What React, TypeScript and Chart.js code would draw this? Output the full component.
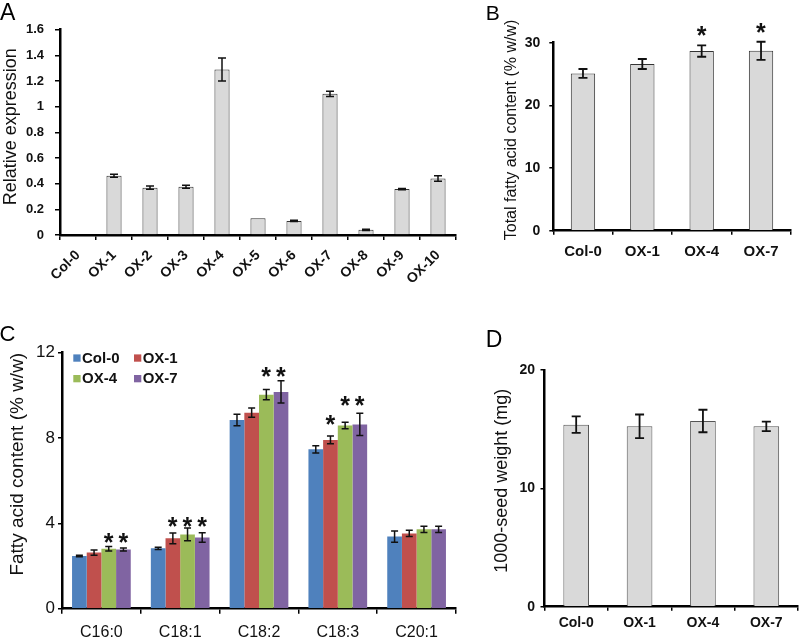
import React, { useEffect, useRef } from "react";
import { Chart, registerables } from "chart.js";

Chart.register(...registerables);

const FONT = "'Liberation Sans', Arial, Helvetica, sans-serif";

// ---------- Panel A : relative expression ----------
const linesA = ["Col-0", "OX-1", "OX-2", "OX-3", "OX-4", "OX-5", "OX-6", "OX-7", "OX-8", "OX-9", "OX-10"];
const exprA = [0, 0.462, 0.369, 0.376, 1.29, 0.13, 0.11, 1.1, 0.04, 0.358, 0.44];
const exprErrA = [0, 0.012, 0.012, 0.012, 0.09, 0, 0.004, 0.02, 0.005, 0.005, 0.022];
const ticksA = [0, 0.2, 0.4, 0.6, 0.8, 1, 1.2, 1.4, 1.6];

// ---------- Panel B : total fatty acid content ----------
const linesB = ["Col-0", "OX-1", "OX-4", "OX-7"];
const totalFaB = [25.1, 26.6, 28.66, 28.7];
const totalFaErrB = [0.7, 0.8, 0.9, 1.45];
const sigB = [null, null, 31.8, 32.4];
const ticksB = [0, 10, 20, 30];

// ---------- Panel C : fatty acid composition ----------
const acidsC = ["C16:0", "C18:1", "C18:2", "C18:3", "C20:1"];
const seriesC = ["Col-0", "OX-1", "OX-4", "OX-7"];
const col0C = [2.47, 2.83, 8.84, 7.47, 3.38];
const col0ErrC = [0.03, 0.05, 0.27, 0.17, 0.26];
const ox1C = [2.63, 3.3, 9.19, 7.91, 3.53];
const ox1ErrC = [0.12, 0.25, 0.22, 0.18, 0.15];
const ox4C = [2.81, 3.48, 10.03, 8.59, 3.72];
const ox4ErrC = [0.1, 0.3, 0.24, 0.15, 0.15];
const ox7C = [2.78, 3.34, 10.16, 8.64, 3.72];
const ox7ErrC = [0.07, 0.22, 0.52, 0.52, 0.15];
const col0SigC = [null, null, null, null, null];
const ox1SigC = [null, 4.08, null, 8.85, null];
const ox4SigC = [3.31, 4.08, 11.11, 9.74, null];
const ox7SigC = [3.31, 4.08, 11.11, 9.74, null];
const colorsC = ["#4F81BD", "#C0504D", "#9BBB59", "#8064A2"];
const ticksC = [0, 4, 8, 12];

// ---------- Panel D : 1000-seed weight ----------
const linesD = ["Col-0", "OX-1", "OX-4", "OX-7"];
const seedD = [15.38, 15.24, 15.69, 15.24];
const seedErrD = [0.7, 1.0, 0.95, 0.4];
const ticksD = [0, 10, 20];

const GRAY = "#D9D9D9";

type PanelCfg = {
  letter: { text: string; x: number; y: number; size: number };
  yTitle: { text: string; x: number; y: number; size: number };
  err: { cap: number; width: number };
  starHeight: number;
  legend?: { cols: number[]; rows: number[]; box: number; textDx: number; size: number };
};

function makePlugin(cfg: PanelCfg) {
  return {
    id: "panelDecor",
    afterDatasetsDraw(chart: any) {
      const ctx = chart.ctx as CanvasRenderingContext2D;
      const ys = chart.scales.y;
      chart.data.datasets.forEach((ds: any, di: number) => {
        const meta = chart.getDatasetMeta(di);
        meta.data.forEach((el: any, i: number) => {
          const v = ds.data[i];
          const e = ds.errors ? ds.errors[i] : 0;
          const x = el.x;
          if (e) {
            const t = ys.getPixelForValue(v + e);
            const b = ys.getPixelForValue(v - e);
            ctx.save();
            ctx.strokeStyle = "#111";
            ctx.lineWidth = cfg.err.width;
            ctx.beginPath();
            ctx.moveTo(x, t);
            ctx.lineTo(x, b);
            ctx.moveTo(x - cfg.err.cap, t);
            ctx.lineTo(x + cfg.err.cap, t);
            ctx.moveTo(x - cfg.err.cap, b);
            ctx.lineTo(x + cfg.err.cap, b);
            ctx.stroke();
            ctx.restore();
          }
          const s = ds.sig ? ds.sig[i] : null;
          if (s !== null && s !== undefined) {
            const yc = ys.getPixelForValue(s);
            ctx.save();
            ctx.font = `bold 100px ${FONT}`;
            const m0 = ctx.measureText("*");
            const h0 = m0.actualBoundingBoxAscent + m0.actualBoundingBoxDescent;
            const size = (100 * cfg.starHeight) / h0;
            ctx.font = `bold ${size}px ${FONT}`;
            const m = ctx.measureText("*");
            const mid = (m.actualBoundingBoxAscent - m.actualBoundingBoxDescent) / 2;
            const cx = (m.actualBoundingBoxRight - m.actualBoundingBoxLeft) / 2;
            ctx.fillStyle = "#111";
            ctx.textAlign = "left";
            ctx.textBaseline = "alphabetic";
            ctx.fillText("*", x - cx, yc + mid);
            ctx.restore();
          }
        });
      });
    },
    afterDraw(chart: any) {
      const ctx = chart.ctx as CanvasRenderingContext2D;
      ctx.save();
      ctx.fillStyle = "#000";
      ctx.font = `${cfg.letter.size}px ${FONT}`;
      ctx.textAlign = "left";
      ctx.textBaseline = "alphabetic";
      ctx.fillText(cfg.letter.text, cfg.letter.x, cfg.letter.y);
      ctx.save();
      ctx.translate(cfg.yTitle.x, cfg.yTitle.y);
      ctx.rotate(-Math.PI / 2);
      ctx.font = `${cfg.yTitle.size}px ${FONT}`;
      ctx.textAlign = "center";
      ctx.textBaseline = "middle";
      ctx.fillStyle = "#111";
      ctx.fillText(cfg.yTitle.text, 0, 0);
      ctx.restore();
      if (cfg.legend) {
        const L = cfg.legend;
        ctx.font = `bold ${L.size}px ${FONT}`;
        ctx.textAlign = "left";
        ctx.textBaseline = "alphabetic";
        chart.data.datasets.forEach((ds: any, i: number) => {
          const cx = L.cols[i % L.cols.length];
          const by = L.rows[Math.floor(i / L.cols.length)];
          ctx.fillStyle = ds.backgroundColor;
          ctx.fillRect(cx, by - L.box - 1, L.box, L.box);
          ctx.fillStyle = "#111";
          ctx.fillText(ds.label, cx + L.textDx, by);
        });
      }
      ctx.restore();
    },
  };
}

function yAxis(ticksArr: number[], font: any, tickLength: number, padding: number, width: number) {
  return {
    type: "linear",
    min: ticksArr[0],
    max: ticksArr[ticksArr.length - 1],
    afterBuildTicks: (s: any) => {
      s.ticks = ticksArr.map((v) => ({ value: v }));
    },
    afterFit: (s: any) => {
      s.width = width;
      s.paddingTop = 0;
      s.paddingBottom = 0;
      s.paddingLeft = 0;
      s.paddingRight = 0;
    },
    ticks: { font, color: "#111", padding, callback: (v: any) => String(v) },
    grid: { display: true, drawOnChartArea: false, drawTicks: true, tickLength, color: "#000", lineWidth: 1.5 },
    border: { display: true, color: "#000", width: 2.5 },
  };
}

function xAxis(font: any, tickLength: number, padding: number, height: number, rotation: number) {
  return {
    type: "category",
    offset: true,
    afterFit: (s: any) => {
      s.height = height;
      s.paddingTop = 0;
      s.paddingBottom = 0;
      s.paddingLeft = 0;
      s.paddingRight = 0;
    },
    ticks: { font, color: "#111", padding, autoSkip: false, maxRotation: rotation, minRotation: rotation },
    grid: { display: true, drawOnChartArea: false, drawTicks: true, tickLength, color: "#000", lineWidth: 1.5, offset: true },
    border: { display: true, color: "#000", width: 2.5 },
  };
}

function baseOptions(padding: any, x: any, y: any) {
  return {
    animation: false,
    responsive: false,
    devicePixelRatio: 1,
    layout: { padding },
    plugins: { legend: { display: false }, tooltip: { enabled: false } },
    scales: { x, y },
  };
}

const cfgA = () => ({
  type: "bar",
  data: {
    labels: linesA,
    datasets: [
      {
        data: exprA,
        errors: exprErrA,
        backgroundColor: GRAY,
        borderColor: "#333",
        borderWidth: 1,
        barPercentage: 0.42,
        categoryPercentage: 1,
      },
    ],
  },
  options: baseOptions(
    { top: 29.7, right: 14, left: 0, bottom: 0 },
    xAxis({ family: FONT, size: 14, weight: "bold" }, 5, 7, 85, 45),
    yAxis(ticksA, { family: FONT, size: 13, weight: "bold" }, 5, 11, 60)
  ),
  plugins: [
    makePlugin({
      letter: { text: "A", x: 0, y: 20, size: 23 },
      yTitle: { text: "Relative expression", x: 11, y: 126.7, size: 18 },
      err: { cap: 4, width: 1.5 },
      starHeight: 9.3,
    }),
  ],
});

const cfgB = () => ({
  type: "bar",
  data: {
    labels: linesB,
    datasets: [
      {
        data: totalFaB,
        errors: totalFaErrB,
        sig: sigB,
        backgroundColor: GRAY,
        borderColor: "#333",
        borderWidth: 1,
        barPercentage: 0.41,
        categoryPercentage: 1,
      },
    ],
  },
  options: baseOptions(
    { top: 42.7, right: 9.3, left: 0, bottom: 0 },
    xAxis({ family: FONT, size: 15, weight: "bold" }, 4, 8, 89.3, 0),
    yAxis(ticksB, { family: FONT, size: 14, weight: "bold" }, 4, 9, 83.3)
  ),
  plugins: [
    makePlugin({
      letter: { text: "B", x: 15.7, y: 20, size: 21 },
      yTitle: { text: "Total fatty acid content (% w/w)", x: 41.7, y: 130, size: 16 },
      err: { cap: 4.5, width: 1.8 },
      starHeight: 9.5,
    }),
  ],
});

const valuesC = [col0C, ox1C, ox4C, ox7C];
const errsC = [col0ErrC, ox1ErrC, ox4ErrC, ox7ErrC];
const sigsC = [col0SigC, ox1SigC, ox4SigC, ox7SigC];

const cfgC = () => ({
  type: "bar",
  data: {
    labels: acidsC,
    datasets: seriesC.map((name, i) => ({
      label: name,
      data: valuesC[i],
      errors: errsC[i],
      sig: sigsC[i],
      backgroundColor: colorsC[i],
      borderWidth: 0,
      barPercentage: 1,
      categoryPercentage: 0.745,
    })),
  },
  options: baseOptions(
    { top: 32.7, right: 14, left: 0, bottom: 0 },
    xAxis({ family: FONT, size: 16 }, 5, 9, 28.3, 0),
    yAxis(ticksC, { family: FONT, size: 17 }, 4, 3, 62)
  ),
  plugins: [
    makePlugin({
      letter: { text: "C", x: -0.5, y: 20.7, size: 22 },
      yTitle: { text: "Fatty acid content (% w/w)", x: 18, y: 144.2, size: 19 },
      err: { cap: 3.5, width: 1.5 },
      starHeight: 9.5,
      legend: { cols: [73.3, 134], rows: [42.7, 63.3], box: 7.3, textDx: 8.7, size: 15 },
    }),
  ],
});

const cfgD = () => ({
  type: "bar",
  data: {
    labels: linesD,
    datasets: [
      {
        data: seedD,
        errors: seedErrD,
        backgroundColor: GRAY,
        borderColor: "#555",
        borderWidth: 1,
        barPercentage: 0.405,
        categoryPercentage: 1,
      },
    ],
  },
  options: baseOptions(
    { top: 50, right: 2, left: 0, bottom: 0 },
    xAxis({ family: FONT, size: 14, weight: "bold" }, 4, 4.5, 30.3, 0),
    yAxis(ticksD, { family: FONT, size: 14, weight: "bold" }, 4, 5.5, 74.5)
  ),
  plugins: [
    makePlugin({
      letter: { text: "D", x: 15.7, y: 26.7, size: 23 },
      yTitle: { text: "1000-seed weight (mg)", x: 31.6, y: 160.8, size: 18 },
      err: { cap: 4.5, width: 1.8 },
      starHeight: 9.3,
    }),
  ],
});

function Panel(props: { left: number; top: number; width: number; height: number; make: () => any }) {
  const ref = useRef<HTMLCanvasElement>(null);
  useEffect(() => {
    const chart = new Chart(ref.current as HTMLCanvasElement, props.make());
    return () => chart.destroy();
  }, []);
  return (
    <canvas
      ref={ref}
      width={props.width}
      height={props.height}
      style={{ position: "absolute", left: props.left, top: props.top, width: props.width, height: props.height }}
    />
  );
}

export default function App() {
  return (
    <div style={{ position: "absolute", left: 0, top: 0, width: 800, height: 637, background: "#fff", overflow: "hidden" }}>
      <Panel left={0} top={0} width={470} height={320} make={cfgA} />
      <Panel left={470} top={0} width={330} height={320} make={cfgB} />
      <Panel left={0} top={320} width={470} height={317} make={cfgC} />
      <Panel left={470} top={320} width={330} height={317} make={cfgD} />
    </div>
  );
}
